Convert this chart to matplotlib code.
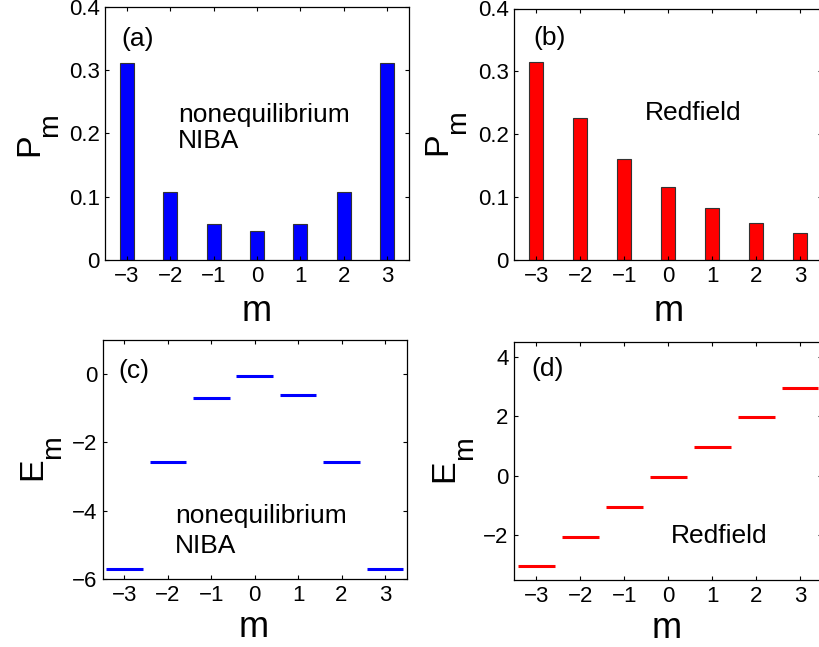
import matplotlib
matplotlib.use("Agg")
import matplotlib.pyplot as plt
import numpy as np

plt.rcParams['font.family'] = ['Liberation Sans', 'DejaVu Sans']
plt.rcParams['axes.unicode_minus'] = True

# ---- data ----
m_vals = [-3, -2, -1, 0, 1, 2, 3]
P_niba = [0.3115, 0.1074, 0.0568, 0.0463, 0.0568, 0.1074, 0.3115]
P_redfield = [0.315, 0.226, 0.161, 0.116, 0.083, 0.0595, 0.0425]
E_niba = [-5.705, -2.585, -0.69, -0.05, -0.62, -2.566, -5.72]
E_redfield = [-3.04, -2.07, -1.06, -0.04, 0.97, 1.98, 2.97]

W, H = 820, 647
fig = plt.figure(figsize=(W / 100, H / 100), dpi=100)


def axes_px(left, top, right, bottom):
    return fig.add_axes([left / W, 1 - bottom / H, (right - left) / W, (bottom - top) / H])


def fpos(x, y):
    return x / W, 1 - y / H


TICK_FS = 16
TXT_FS = 19
LAB_FS = 24.5
SUB_FS = 20.5
XLAB_FS = 26


def style(ax, yticks, ylim):
    ax.set_xlim(-3.5, 3.5)
    ax.set_xticks(m_vals)
    ax.set_ylim(*ylim)
    ax.set_yticks(yticks)
    ax.tick_params(direction='in', length=3, width=0.8, top=True, right=True,
                   labelsize=TICK_FS, pad=4.5)
    ax.tick_params(axis='y', pad=4)
    for s in ax.spines.values():
        s.set_linewidth(0.9)


def fmt_p(v):
    return '0' if v == 0 else f'{v:.1f}'


# (a)
ax_a = axes_px(105.3, 6.7, 408.7, 260)
ax_a.bar(m_vals, P_niba, width=0.32, color='#0000ff', edgecolor='#333333', linewidth=0.8)
style(ax_a, [0, 0.1, 0.2, 0.3, 0.4], (0, 0.4))
ax_a.set_yticklabels([fmt_p(v) for v in [0, 0.1, 0.2, 0.3, 0.4]])
ax_a.text(0.052, 0.844, '(a)', transform=ax_a.transAxes, fontsize=TXT_FS, va='baseline')
ax_a.text(0.2406, 0.546, 'nonequilibrium', transform=ax_a.transAxes, fontsize=TXT_FS, va='baseline')
ax_a.text(0.2406, 0.441, 'NIBA', transform=ax_a.transAxes, fontsize=TXT_FS, va='baseline')

# (b)
ax_b = axes_px(514.3, 8.5, 822, 260)
ax_b.bar(m_vals, P_redfield, width=0.32, color='#ff0000', edgecolor='#333333', linewidth=0.8)
style(ax_b, [0, 0.1, 0.2, 0.3, 0.4], (0, 0.4))
ax_b.set_yticklabels([fmt_p(v) for v in [0, 0.1, 0.2, 0.3, 0.4]])
ax_b.text(0.062, 0.856, '(b)', transform=ax_b.transAxes, fontsize=TXT_FS, va='baseline')
ax_b.text(0.423, 0.557, 'Redfield', transform=ax_b.transAxes, fontsize=TXT_FS, va='baseline')

# (c)
ax_c = axes_px(102.7, 340, 406.7, 579)
ax_c.hlines(E_niba, np.array(m_vals) - 0.42, np.array(m_vals) + 0.42, colors='#0000ff', linewidth=2.2)
style(ax_c, [-6, -4, -2, 0], (-6, 1))
ax_c.text(0.051, 0.841, '(c)', transform=ax_c.transAxes, fontsize=TXT_FS, va='baseline')
ax_c.text(0.238, 0.236, 'nonequilibrium', transform=ax_c.transAxes, fontsize=TXT_FS, va='baseline')
ax_c.text(0.238, 0.108, 'NIBA', transform=ax_c.transAxes, fontsize=TXT_FS, va='baseline')

# (d)
ax_d = axes_px(514.3, 342, 822, 580)
ax_d.hlines(E_redfield, np.array(m_vals) - 0.42, np.array(m_vals) + 0.42, colors='#ff0000', linewidth=2.2)
style(ax_d, [-2, 0, 2, 4], (-3.5, 4.5))
ax_d.text(0.0565, 0.857, '(d)', transform=ax_d.transAxes, fontsize=TXT_FS, va='baseline')
ax_d.text(0.509, 0.157, 'Redfield', transform=ax_d.transAxes, fontsize=TXT_FS, va='baseline')

# y labels (main letter + subscript)
ylabs = [('P', 38.3, 145, 56.7, 125.5),
         ('P', 446.7, 144, 465, 122),
         ('E', 41.7, 469, 60, 447.5),
         ('E', 453.3, 471, 471.7, 448)]
for letter, bx, cy, sbx, scy in ylabs:
    x, y = fpos(bx, cy)
    fig.text(x, y, letter, rotation=90, rotation_mode='anchor', ha='center', va='baseline',
             fontsize=LAB_FS)
    x, y = fpos(sbx, scy)
    fig.text(x, y, 'm', rotation=90, rotation_mode='anchor', ha='center', va='baseline',
             fontsize=SUB_FS)

# x labels
for cx, by in [(256.7, 320.7), (668.3, 320.7), (253.7, 636.7), (667, 638.3)]:
    x, y = fpos(cx, by)
    fig.text(x, y, 'm', ha='center', va='baseline', fontsize=XLAB_FS)

fig.savefig('out.png', dpi=100)
